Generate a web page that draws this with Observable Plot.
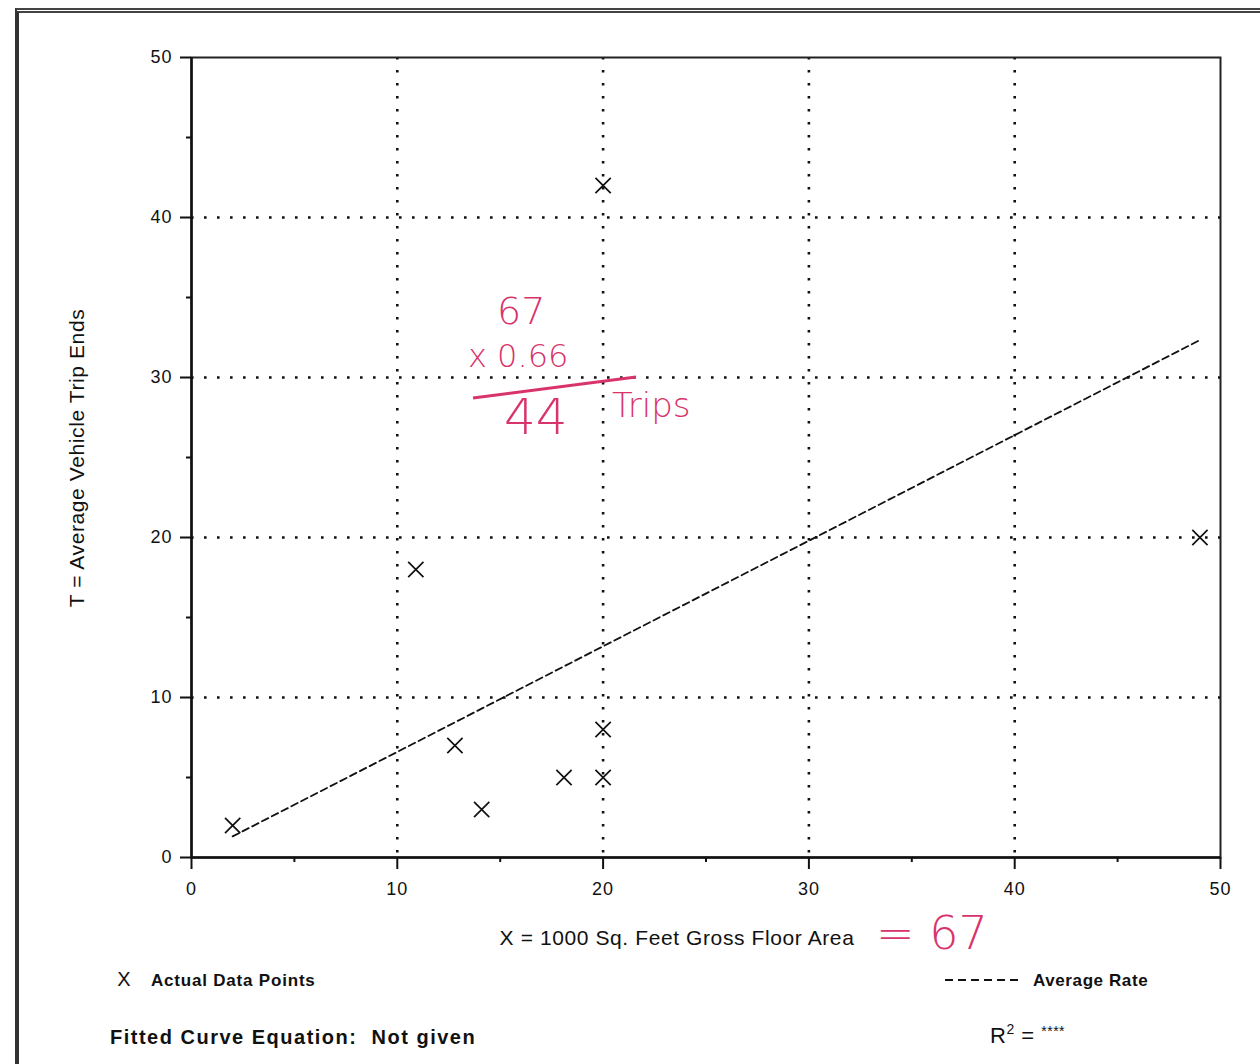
<!DOCTYPE html>
<html>
<head>
<meta charset="utf-8">
<script src="https://cdn.jsdelivr.net/npm/d3@7"></script>
<script src="https://cdn.jsdelivr.net/npm/@observablehq/plot@0.6"></script>
<style>
  html, body { margin: 0; padding: 0; background: #fff; }
  #page { position: relative; width: 1260px; height: 1064px; overflow: hidden; background: #fff;
          font-family: "Liberation Sans", Arial, Helvetica, sans-serif; color: #111; }
  #page svg text { letter-spacing: 1px; }
  .abs { position: absolute; white-space: pre; line-height: 1; }
  .c { transform: translate(-50%, -50%); }
  .lv { transform: translate(0, -50%); }
  .hand { position: absolute; white-space: pre; line-height: 1; color: #d8336b;
          font-family: "DejaVu Sans", sans-serif; font-weight: 200; }
  #border { position: absolute; left: 15px; top: 8px; width: 1300px; height: 1054px;
            border-left: 4px solid #333; border-top: 5px double #444; border-bottom: 2px solid #777; }
</style>
</head>
<body>
<div id="page">
  <div id="border"></div>
  <div id="chart" style="position:absolute;left:0;top:0;"></div>
</div>
<script>
// ---- data ----
const xValues = [2, 10.9, 12.8, 14.1, 18.1, 20, 20, 20, 49];
const yValues = [2, 18, 7, 3, 5, 5, 8, 42, 20];
const averageRate = 0.66;
const majorTicks = [0, 10, 20, 30, 40, 50];
const minorTicks = [5, 15, 25, 35, 45];
const gridTicks = [10, 20, 30, 40];
const xTitle = "X = 1000 Sq. Feet Gross Floor Area";
const yTitle = "T = Average Vehicle Trip Ends";
const legendPoints = "Actual Data Points";
const legendRate = "Average Rate";
const equationText = "Fitted Curve Equation:  Not given";

const points = xValues.map((x, i) => ({x, y: yValues[i]}));
const lineData = d3.extent(xValues).map(x => ({x, y: x * averageRate}));

const chart = Plot.plot({
  width: 1260,
  height: 920,
  marginLeft: 191,
  marginRight: 40,
  marginTop: 57,
  marginBottom: 63,
  x: {domain: [0, 50], label: null},
  y: {domain: [0, 50], label: null},
  style: {fontFamily: "Liberation Sans, Arial, sans-serif", fontSize: "18px", background: "transparent", color: "#111", overflow: "visible"},
  marks: [
    Plot.gridX(gridTicks, {stroke: "#111", strokeOpacity: 1, strokeWidth: 2.6, strokeDasharray: "2.6,10.4"}),
    Plot.gridY(gridTicks, {stroke: "#111", strokeOpacity: 1, strokeWidth: 2.6, strokeDasharray: "2.6,10.4"}),
    Plot.frame({stroke: "#222", strokeWidth: 2}),
    Plot.ruleY([0], {stroke: "#111", strokeWidth: 2.5}),
    Plot.ruleX([0], {stroke: "#111", strokeWidth: 2.5}),
    Plot.axisX(majorTicks, {tickSize: 12, tickPadding: 13, label: null, strokeWidth: 2, fontSize: 18}),
    Plot.axisX(minorTicks, {tickSize: 5, text: null, label: null, strokeWidth: 2}),
    Plot.axisY(majorTicks, {tickSize: 11, tickPadding: 8, label: null, strokeWidth: 2, fontSize: 18}),
    Plot.axisY(minorTicks, {tickSize: 5, text: null, label: null, strokeWidth: 2}),
    Plot.line(lineData, {x: "x", y: "y", stroke: "#111", strokeWidth: 1.8, strokeDasharray: "7,4"}),
    Plot.dot(points, {x: "x", y: "y", symbol: "times", r: 7, stroke: "#111", strokeWidth: 1.7})
  ]
});
document.getElementById("chart").appendChild(chart);

// ---- titles, legend and notes (HTML around the SVG) ----
const page = document.getElementById("page");
function addText(txt, cls, css, html) {
  const d = document.createElement("div");
  d.className = cls;
  d.setAttribute("style", css);
  if (html) d.innerHTML = txt; else d.textContent = txt;
  page.appendChild(d);
  return d;
}
addText(yTitle, "abs", "left:76px;top:458px;font-size:21px;letter-spacing:0.6px;transform:translate(-50%,-50%) rotate(-90deg);");
addText(xTitle, "abs c", "left:677px;top:937px;font-size:21px;letter-spacing:0.6px;");
addText("X", "abs c", "left:124px;top:979px;font-size:20px;font-weight:400;");
addText(legendPoints, "abs lv", "left:151px;top:980px;font-size:17px;font-weight:bold;letter-spacing:0.8px;");
addText('<svg width="76" height="6"><line x1="0" y1="3" x2="76" y2="3" stroke="#111" stroke-width="2" stroke-dasharray="8,5"/></svg>', "abs lv", "left:945px;top:978px;", true);
addText(legendRate, "abs lv", "left:1033px;top:980px;font-size:17px;font-weight:bold;letter-spacing:0.6px;");
addText(equationText, "abs lv", "left:110px;top:1037px;font-size:20px;font-weight:bold;letter-spacing:1.5px;");
addText('R<span style="font-size:14px;position:relative;top:-9px;">2</span> = <span style="font-size:14px;position:relative;top:-7px;">****</span>', "abs lv", "left:990px;top:1036px;font-size:22px;letter-spacing:0.5px;", true);

// ---- handwritten red annotations ----
addText("67", "hand", "left:497px;top:292px;font-size:38px;");
addText("x 0.66", "hand", "left:468px;top:340px;font-size:32px;");
addText('<svg width="170" height="30"><line x1="3" y1="25" x2="166" y2="4" stroke="#d8336b" stroke-width="2.8"/></svg>', "hand", "left:470px;top:373px;", true);
addText("44", "hand", "left:504px;top:392px;font-size:50px;");
addText("Trips", "hand", "left:612px;top:388px;font-size:34px;");
addText("= 67", "hand", "left:876px;top:910px;font-size:46px;");
</script>
</body>
</html>
